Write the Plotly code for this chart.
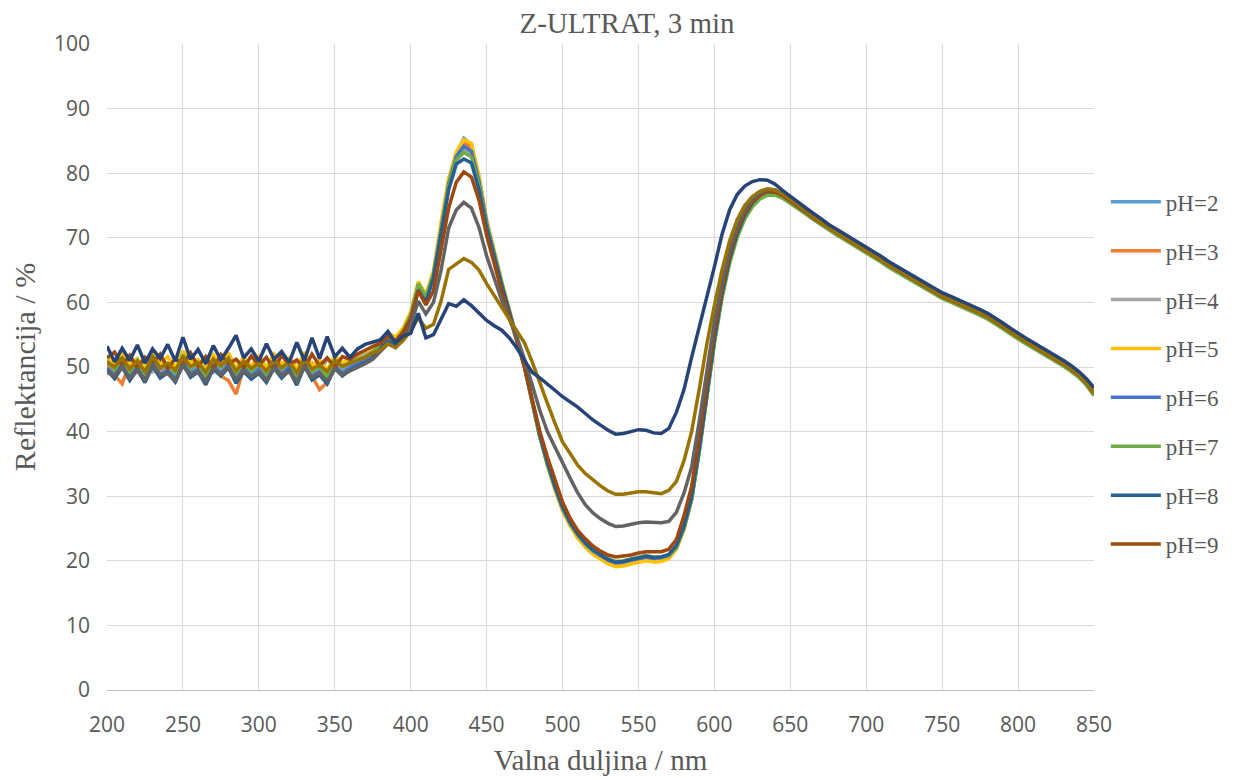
import plotly.graph_objects as go

# Wavelength grid (nm)
wavelength = list(range(200, 851, 5))

labels = ["pH=2", "pH=3", "pH=4", "pH=5", "pH=6", "pH=7", "pH=8", "pH=9", "pH=10", "pH=11", "pH=12"]
colors = ["#5B9BD5", "#ED7D31", "#A5A5A5", "#FFC000", "#4472C4", "#70AD47",
          "#255E91", "#9E480E", "#636363", "#997300", "#264478"]

ph2 = [50.6, 49.3, 51.2, 48.9, 50.7, 48.5, 51.4, 49.6, 50.1, 48.8, 51.6, 49.5, 50.3, 48.2, 50.8, 49.9, 51.1, 48.7, 50.5, 49.2, 50.2, 48.6, 50.9, 49.4, 50.6, 48.3, 51.3, 49.0, 49.8, 47.3, 50.9, 49.7, 50.4, 50.8, 51.3, 52.0,
       53.4, 54.5, 53.9, 55.3, 57.8, 62.6, 60.6, 64.5, 72.0, 78.8, 83.0, 85.4, 84.4, 79.4, 72.6, 67.6, 63.0, 58.7, 54.4, 50.0, 44.6, 39.3, 35.0, 31.3, 28.1, 25.8, 24.0, 22.6, 21.5, 20.8, 20.0, 19.5, 19.6, 19.9, 20.2, 20.4, 20.2, 20.3, 20.6, 22.0, 25.0, 29.5, 37.0, 45.5, 54.0, 61.0, 66.5, 70.5, 73.3, 75.2, 76.4, 77.0, 77.0, 76.4, 75.6,
       74.8, 73.9, 73.0, 72.2, 71.4, 70.7, 70.0, 69.3, 68.5, 67.8, 67.1, 66.4, 65.6, 64.9, 64.2, 63.5, 62.8, 62.2, 61.5, 60.8, 60.3, 59.8, 59.3, 58.8, 58.2, 57.6, 56.9, 56.1, 55.3, 54.5, 53.8, 53.1, 52.4, 51.8, 51.1, 50.3, 49.5, 48.6, 47.4, 45.8]

ph3 = [50.1, 48.8, 47.4, 50.6, 49.3, 48.1, 50.8, 48.9, 49.7, 47.6, 50.9, 48.7, 49.8, 47.2, 50.4, 48.6, 47.9, 45.8, 49.9, 48.4, 49.6, 47.7, 50.5, 48.8, 50.1, 47.5, 50.7, 48.5, 46.5, 47.6, 50.2, 48.9, 49.8, 50.2, 51.0, 51.7,
       53.0, 54.1, 53.5, 55.0, 57.5, 62.2, 60.3, 64.2, 71.6, 78.4, 82.6, 84.8, 83.9, 79.0, 72.4, 67.4, 62.9, 58.6, 54.3, 49.9, 44.5, 39.2, 34.9, 31.2, 28.0, 25.7, 23.9, 22.5, 21.4, 20.7, 20.0, 19.6, 19.7, 20.0, 20.3, 20.5, 20.3, 20.4, 20.7, 22.1, 25.1, 29.6, 37.1, 45.6, 54.1, 61.1, 66.5, 70.5, 73.3, 75.2, 76.4, 77.0, 76.9, 76.3, 75.5,
       74.7, 73.8, 72.9, 72.1, 71.3, 70.6, 69.9, 69.2, 68.4, 67.7, 67.0, 66.3, 65.5, 64.8, 64.1, 63.4, 62.7, 62.1, 61.4, 60.7, 60.2, 59.7, 59.2, 58.7, 58.1, 57.5, 56.8, 56.0, 55.2, 54.4, 53.7, 53.0, 52.3, 51.7, 51.0, 50.2, 49.4, 48.5, 47.3, 45.6]

ph4 = [51.2, 49.8, 50.6, 51.7, 49.4, 50.9, 49.1, 51.5, 50.2, 49.0, 50.8, 51.9, 49.6, 50.3, 49.2, 51.4, 50.0, 49.3, 51.1, 49.8, 50.7, 49.4, 51.2, 50.1, 49.5, 51.0, 49.7, 50.6, 49.3, 51.2, 50.4, 49.9, 51.0, 51.4, 52.0, 52.6,
       53.8, 54.9, 54.3, 55.6, 58.0, 62.8, 60.8, 64.0, 71.2, 78.0, 82.2, 83.8, 83.0, 78.4, 72.0, 67.2, 62.8, 58.5, 54.3, 50.0, 44.7, 39.4, 35.1, 31.4, 28.2, 25.9, 24.1, 22.7, 21.6, 20.9, 20.2, 19.7, 19.8, 20.1, 20.4, 20.6, 20.4, 20.5, 20.8, 22.2, 25.2, 29.7, 37.2, 45.7, 54.2, 61.2, 66.6, 70.6, 73.4, 75.3, 76.5, 77.1, 77.0, 76.4, 75.6,
       74.8, 73.9, 73.1, 72.2, 71.4, 70.7, 70.0, 69.3, 68.6, 67.9, 67.1, 66.4, 65.7, 65.0, 64.3, 63.6, 62.9, 62.2, 61.6, 60.9, 60.4, 59.9, 59.3, 58.8, 58.3, 57.7, 57.0, 56.2, 55.4, 54.6, 53.9, 53.2, 52.5, 51.9, 51.2, 50.4, 49.6, 48.7, 47.5, 45.9]

ph5 = [51.8, 50.2, 52.4, 50.6, 51.3, 49.7, 52.1, 50.5, 51.6, 49.9, 52.5, 50.8, 51.2, 49.6, 51.9, 50.3, 52.2, 49.8, 51.5, 50.1, 51.7, 49.9, 52.0, 50.4, 51.4, 49.7, 52.3, 50.2, 51.0, 49.5, 51.8, 50.6, 51.3, 51.9, 52.4, 53.0,
       54.2, 55.3, 54.6, 56.0, 58.5, 63.2, 61.2, 64.9, 72.4, 79.2, 83.2, 85.2, 84.6, 79.6, 72.8, 67.8, 63.2, 58.8, 54.5, 50.1, 44.6, 39.2, 34.8, 31.0, 27.7, 25.4, 23.5, 22.1, 21.0, 20.2, 19.5, 19.1, 19.2, 19.5, 19.8, 20.0, 19.8, 19.9, 20.3, 21.8, 24.8, 29.4, 36.9, 45.4, 53.9, 61.0, 66.5, 70.5, 73.4, 75.3, 76.5, 77.1, 77.0, 76.5, 75.7,
       74.9, 74.0, 73.1, 72.3, 71.5, 70.8, 70.1, 69.4, 68.6, 67.9, 67.2, 66.5, 65.7, 65.0, 64.3, 63.6, 62.9, 62.3, 61.6, 60.9, 60.4, 59.9, 59.4, 58.9, 58.3, 57.7, 57.0, 56.2, 55.4, 54.6, 53.9, 53.2, 52.5, 51.9, 51.2, 50.4, 49.6, 48.7, 47.5, 45.9]

ph6 = [49.8, 48.7, 50.5, 48.4, 50.1, 47.9, 50.7, 48.8, 49.5, 48.2, 50.9, 48.9, 49.7, 47.8, 50.2, 49.1, 50.4, 48.0, 49.9, 48.6, 49.6, 48.1, 50.3, 48.8, 50.0, 47.7, 50.6, 48.5, 49.3, 47.6, 50.2, 49.0, 49.9, 50.4, 50.9, 51.6,
       53.2, 54.3, 53.7, 55.1, 57.6, 62.4, 60.4, 64.3, 71.6, 78.3, 82.6, 84.2, 83.4, 78.7, 72.3, 67.4, 62.9, 58.6, 54.3, 49.9, 44.6, 39.3, 35.0, 31.3, 28.1, 25.8, 24.0, 22.6, 21.5, 20.8, 20.1, 19.7, 19.8, 20.1, 20.4, 20.6, 20.4, 20.5, 20.8, 22.1, 25.1, 29.6, 37.0, 45.5, 54.0, 61.0, 66.4, 70.4, 73.2, 75.1, 76.3, 76.9, 76.9, 76.3, 75.5,
       74.7, 73.8, 72.9, 72.1, 71.3, 70.6, 69.9, 69.2, 68.4, 67.7, 67.0, 66.3, 65.5, 64.8, 64.1, 63.4, 62.7, 62.1, 61.4, 60.7, 60.2, 59.7, 59.2, 58.7, 58.1, 57.5, 56.8, 56.0, 55.2, 54.4, 53.7, 53.0, 52.3, 51.7, 51.0, 50.2, 49.4, 48.5, 47.3, 45.7]

ph7 = [50.9, 49.6, 51.5, 49.3, 51.0, 48.9, 51.7, 49.8, 50.5, 49.1, 51.9, 49.8, 50.6, 48.6, 51.2, 50.0, 51.4, 49.0, 50.8, 49.4, 50.5, 48.9, 51.2, 49.7, 50.9, 48.6, 51.6, 49.3, 50.1, 48.4, 51.2, 50.0, 50.7, 51.1, 51.6, 52.3,
       53.6, 54.7, 54.1, 55.5, 58.1, 62.9, 60.9, 64.4, 71.4, 78.0, 82.0, 83.2, 82.5, 78.0, 71.9, 67.2, 62.8, 58.5, 54.3, 50.0, 44.7, 39.4, 35.1, 31.4, 28.2, 25.9, 24.1, 22.7, 21.6, 20.9, 20.3, 19.9, 20.0, 20.3, 20.6, 20.8, 20.6, 20.6, 20.9, 22.2, 25.1, 29.5, 36.8, 45.2, 53.6, 60.6, 66.0, 70.0, 72.9, 74.8, 76.0, 76.6, 76.6, 76.1, 75.3,
       74.5, 73.6, 72.8, 72.0, 71.2, 70.5, 69.8, 69.1, 68.3, 67.6, 66.9, 66.2, 65.4, 64.7, 64.0, 63.3, 62.6, 62.0, 61.3, 60.6, 60.1, 59.6, 59.1, 58.6, 58.0, 57.4, 56.7, 55.9, 55.1, 54.3, 53.6, 52.9, 52.2, 51.6, 50.9, 50.1, 49.3, 48.4, 47.2, 45.6]

ph8 = [49.5, 48.2, 50.0, 47.9, 49.6, 47.6, 50.2, 48.3, 49.1, 47.7, 50.4, 48.4, 49.2, 47.3, 49.7, 48.6, 49.9, 47.5, 49.3, 48.1, 49.0, 47.6, 49.8, 48.3, 49.5, 47.2, 50.1, 48.0, 48.8, 47.4, 49.8, 48.6, 49.5, 50.0, 50.6, 51.3,
       52.8, 53.9, 53.4, 54.8, 57.2, 61.9, 60.0, 63.8, 70.8, 77.4, 81.4, 82.2, 81.6, 77.4, 71.5, 66.9, 62.6, 58.4, 54.3, 50.1, 44.9, 39.6, 35.3, 31.6, 28.4, 26.0, 24.2, 22.8, 21.7, 20.9, 20.2, 19.8, 19.9, 20.2, 20.5, 20.7, 20.5, 20.6, 21.0, 22.4, 25.4, 29.9, 37.3, 45.8, 54.3, 61.3, 66.7, 70.7, 73.5, 75.4, 76.6, 77.2, 77.1, 76.6, 75.8,
       75.0, 74.1, 73.2, 72.4, 71.6, 70.9, 70.2, 69.5, 68.7, 68.0, 67.3, 66.6, 65.8, 65.1, 64.4, 63.7, 63.0, 62.4, 61.7, 61.0, 60.5, 60.0, 59.5, 59.0, 58.4, 57.8, 57.1, 56.3, 55.5, 54.7, 54.0, 53.3, 52.6, 52.0, 51.3, 50.5, 49.7, 48.8, 47.6, 46.0]

ph9 = [51.4, 52.3, 50.2, 51.8, 49.9, 51.5, 50.6, 52.0, 49.8, 51.3, 50.4, 52.2, 50.1, 51.6, 49.7, 51.9, 50.5, 51.2, 49.9, 51.7, 50.3, 51.5, 49.6, 51.8, 50.4, 51.1, 49.8, 52.0, 50.2, 51.4, 50.0, 51.6, 51.2, 52.0, 52.6, 53.2,
       53.6, 54.8, 54.0, 55.4, 57.5, 61.8, 59.6, 61.8, 68.2, 74.6, 78.6, 80.2, 79.4, 75.8, 70.4, 65.9, 61.6, 57.8, 54.0, 50.0, 45.0, 40.1, 36.1, 32.4, 29.1, 26.6, 24.7, 23.4, 22.3, 21.5, 20.9, 20.6, 20.7, 20.9, 21.2, 21.4, 21.4, 21.4, 21.8, 23.3, 27.0, 31.5, 39.0, 47.5, 55.5, 62.0, 67.3, 71.2, 73.8, 75.5, 76.6, 77.2, 77.1, 76.5, 75.7,
       74.9, 74.0, 73.1, 72.3, 71.5, 70.8, 70.1, 69.4, 68.6, 67.9, 67.2, 66.5, 65.7, 65.0, 64.3, 63.6, 62.9, 62.3, 61.6, 60.9, 60.4, 59.9, 59.4, 58.9, 58.3, 57.7, 57.0, 56.2, 55.4, 54.6, 53.9, 53.2, 52.5, 51.9, 51.2, 50.4, 49.6, 48.7, 47.5, 45.9]

ph10 = [49.2, 48.6, 50.1, 48.3, 49.5, 48.0, 50.3, 48.8, 49.0, 47.9, 50.2, 48.7, 49.3, 47.8, 49.8, 48.9, 50.0, 48.1, 49.4, 48.5, 49.2, 47.9, 49.9, 48.6, 49.3, 47.7, 50.1, 48.4, 49.0, 47.8, 49.7, 48.8, 49.4, 49.9, 50.5, 51.2,
        52.4, 53.6, 53.0, 54.3, 56.5, 60.2, 58.2, 60.0, 65.0, 71.5, 74.3, 75.5, 74.6, 71.6, 67.2, 63.6, 60.3, 57.4, 54.6, 51.2, 47.3, 43.3, 40.0, 37.5, 35.3, 32.8, 30.5, 28.7, 27.4, 26.5, 25.8, 25.3, 25.4, 25.7, 25.9, 26.0, 25.9, 25.9, 26.1, 27.5, 30.5, 34.5, 41.5, 49.5, 57.0, 63.0, 68.0, 71.8, 74.3, 75.9, 76.9, 77.5, 77.4, 76.8, 75.9,
        75.1, 74.2, 73.3, 72.5, 71.7, 71.0, 70.3, 69.6, 68.8, 68.1, 67.4, 66.7, 65.9, 65.2, 64.5, 63.8, 63.1, 62.5, 61.8, 61.1, 60.6, 60.1, 59.6, 59.1, 58.5, 57.9, 57.2, 56.4, 55.6, 54.8, 54.1, 53.4, 52.7, 52.1, 51.4, 50.6, 49.8, 48.9, 47.7, 46.1]

ph11 = [50.8, 50.0, 51.4, 49.7, 50.9, 49.3, 51.6, 49.9, 50.6, 49.5, 51.5, 50.1, 50.7, 49.2, 51.2, 50.2, 51.3, 49.4, 50.9, 49.8, 50.6, 49.4, 51.1, 49.9, 50.8, 49.1, 51.4, 49.7, 50.3, 49.3, 51.0, 50.1, 50.6, 51.0, 51.5, 52.2,
        52.6, 53.6, 53.0, 54.1, 55.6, 57.6, 56.0, 56.6, 60.2, 65.1, 66.0, 66.8, 66.2, 65.0, 62.9, 61.1, 59.3, 57.5, 55.7, 53.7, 50.8, 47.5, 44.4, 41.3, 38.4, 36.6, 34.8, 33.5, 32.5, 31.6, 30.8, 30.3, 30.3, 30.5, 30.7, 30.7, 30.5, 30.4, 30.9, 32.3, 35.5, 40.0, 46.5, 53.5, 59.5, 65.0, 69.5, 72.8, 75.0, 76.4, 77.2, 77.6, 77.4, 76.8, 75.9,
        75.1, 74.2, 73.3, 72.4, 71.6, 70.9, 70.2, 69.5, 68.7, 68.0, 67.3, 66.6, 65.8, 65.1, 64.4, 63.7, 63.0, 62.4, 61.7, 61.0, 60.5, 60.0, 59.5, 59.0, 58.4, 57.8, 57.1, 56.3, 55.5, 54.7, 54.0, 53.3, 52.6, 52.0, 51.3, 50.5, 49.7, 48.8, 47.6, 46.0]

ph12 = [53.2, 50.8, 52.9, 51.0, 53.4, 50.6, 52.8, 51.3, 53.5, 50.9, 54.6, 51.2, 52.7, 50.5, 53.3, 51.1, 52.9, 54.9, 51.4, 52.8, 50.9, 53.6, 51.2, 52.4, 50.7, 53.8, 51.0, 54.5, 51.3, 54.7, 51.6, 52.9, 51.5, 52.8, 53.5, 53.9,
        54.2, 55.5, 53.7, 54.8, 55.2, 58.3, 54.5, 55.0, 57.5, 59.8, 59.4, 60.4, 59.5, 58.4, 57.2, 56.4, 55.7, 54.5, 52.9, 51.0, 49.2, 48.3, 47.4, 46.4, 45.4, 44.6, 43.8, 42.8, 41.8, 41.0, 40.2, 39.6, 39.7, 40.0, 40.3, 40.2, 39.8, 39.7, 40.5, 43.0, 46.5, 51.5, 56.0, 60.5, 65.5, 70.5, 74.3, 76.7, 78.0, 78.7, 79.0, 78.9, 78.3, 77.3, 76.4,
        75.6, 74.7, 73.8, 73.0, 72.1, 71.4, 70.7, 70.0, 69.2, 68.5, 67.8, 67.1, 66.3, 65.6, 64.9, 64.2, 63.5, 62.9, 62.2, 61.5, 61.0, 60.5, 60.0, 59.5, 58.9, 58.3, 57.6, 56.8, 56.0, 55.2, 54.5, 53.8, 53.1, 52.5, 51.8, 51.0, 50.2, 49.3, 48.2, 46.8]

series = [ph2, ph3, ph4, ph5, ph6, ph7, ph8, ph9, ph10, ph11, ph12]
legend_count = 8  # only the first eight entries are visible in the legend

fig = go.Figure()
for i, (name, col, ys) in enumerate(zip(labels, colors, series)):
    fig.add_trace(go.Scatter(
        x=wavelength, y=ys, name=name, mode="lines",
        line=dict(color=col, width=3.5),
        legendgroup=name,
        showlegend=i < legend_count,
    ))

fig.update_layout(
    width=1238, height=778,
    paper_bgcolor="white", plot_bgcolor="white",
    margin=dict(l=99, r=152, t=36, b=96),
    title=dict(text="Z-ULTRAT, 3 min", x=0.5, xref="container", xanchor="center",
               y=1 - 15 / 778, yref="container", yanchor="middle",
               font=dict(family="Liberation Serif", size=29, color="#595959")),
    legend=dict(x=1.012, xanchor="left", y=0.789, yanchor="top",
                font=dict(family="Liberation Serif", size=23, color="#595959"),
                tracegroupgap=16, itemwidth=50, bgcolor="rgba(0,0,0,0)"),
    showlegend=True,
)
fig.update_xaxes(
    range=[200, 850], dtick=50, tick0=200,
    showgrid=True, gridcolor="#D9D9D9", gridwidth=1,
    showline=True, linecolor="#BFBFBF", linewidth=1,
    zeroline=False, ticks="", ticklabelstandoff=16,
    tickfont=dict(family="Open Sans", size=21, color="#595959"),
    title=dict(text="Valna duljina / nm", standoff=12,
               font=dict(family="Liberation Serif", size=29, color="#595959")),
)
fig.update_yaxes(
    range=[0, 100], dtick=10, tick0=0,
    showgrid=True, gridcolor="#D9D9D9", gridwidth=1,
    showline=False, zeroline=False, ticks="", ticklabelstandoff=16,
    tickfont=dict(family="Open Sans", size=21, color="#595959"),
    title=dict(text="Reflektancija / %", standoff=11,
               font=dict(family="Liberation Serif", size=30, color="#595959")),
)

fig.write_html("out.html")
